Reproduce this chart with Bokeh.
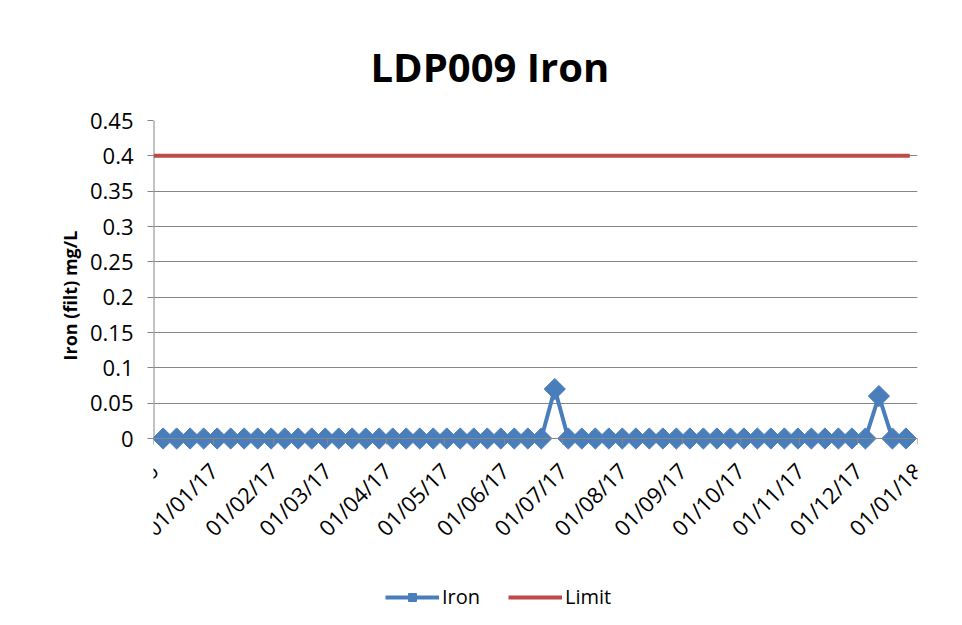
import datetime as dt
from math import pi

from bokeh.plotting import figure
from bokeh.models import (ColumnDataSource, FixedTicker, Legend, LegendItem,
                          Range1d, Title)
from bokeh.embed import file_html
from bokeh.resources import INLINE

# ---------------- data ----------------
iron_dates = [
    "2016-12-06", "2016-12-13", "2016-12-20", "2016-12-27",
    "2017-01-03", "2017-01-10", "2017-01-17", "2017-01-24", "2017-01-31",
    "2017-02-07", "2017-02-14", "2017-02-21", "2017-02-28",
    "2017-03-07", "2017-03-14", "2017-03-21", "2017-03-28",
    "2017-04-04", "2017-04-11", "2017-04-18", "2017-04-25",
    "2017-05-02", "2017-05-09", "2017-05-16", "2017-05-23", "2017-05-30",
    "2017-06-06", "2017-06-13", "2017-06-20", "2017-06-27",
    "2017-07-04", "2017-07-11", "2017-07-18", "2017-07-25",
    "2017-08-01", "2017-08-08", "2017-08-15", "2017-08-22", "2017-08-29",
    "2017-09-05", "2017-09-12", "2017-09-19", "2017-09-26",
    "2017-10-03", "2017-10-10", "2017-10-17", "2017-10-24", "2017-10-31",
    "2017-11-07", "2017-11-14", "2017-11-21", "2017-11-28",
    "2017-12-05", "2017-12-12", "2017-12-19", "2017-12-26",
]
iron_values = [
    0, 0, 0, 0,
    0, 0, 0, 0, 0,
    0, 0, 0, 0,
    0, 0, 0, 0,
    0, 0, 0, 0,
    0, 0, 0, 0, 0,
    0, 0, 0, 0.07,
    0, 0, 0, 0,
    0, 0, 0, 0, 0,
    0, 0, 0, 0,
    0, 0, 0, 0, 0,
    0, 0, 0, 0,
    0, 0.06, 0, 0,
]
limit_dates = ["2016-12-01", "2017-12-28"]
limit_values = [0.4, 0.4]

x_tick_dates = [
    "2016-12-01", "2017-01-01", "2017-02-01", "2017-03-01", "2017-04-01",
    "2017-05-01", "2017-06-01", "2017-07-01", "2017-08-01", "2017-09-01",
    "2017-10-01", "2017-11-01", "2017-12-01", "2018-01-01",
]
x_tick_labels = [
    "01/12/16", "01/01/17", "01/02/17", "01/03/17", "01/04/17",
    "01/05/17", "01/06/17", "01/07/17", "01/08/17", "01/09/17",
    "01/10/17", "01/11/17", "01/12/17", "01/01/18",
]
y_ticks = [0, 0.05, 0.1, 0.15, 0.2, 0.25, 0.3, 0.35, 0.4, 0.45]
y_tick_labels = ["0", "0.05", "0.1", "0.15", "0.2", "0.25", "0.3", "0.35", "0.4", "0.45"]

title_text = "LDP009 Iron"
y_label = "Iron (filt) mg/L"


def to_dt(s):
    return dt.datetime.strptime(s, "%Y-%m-%d")


def to_ms(s):
    return int((to_dt(s) - dt.datetime(1970, 1, 1)).total_seconds() * 1000)


FONT = "Open Sans"
BLUE = "#4a7ebb"
RED = "#be4b48"
GRID = "#868686"

# layout (pixels): plotting area 318 px tall for the value axis,
# with 182 px below it for the date labels and legend
DATA_PX = 318
BELOW_PX = 182
y_start = -(y_ticks[-1] - y_ticks[0]) * BELOW_PX / DATA_PX

iron_src = ColumnDataSource(dict(x=[to_dt(d) for d in iron_dates], y=iron_values))
limit_src = ColumnDataSource(dict(x=[to_dt(d) for d in limit_dates], y=limit_values))

x0 = to_dt(x_tick_dates[0])
x1 = to_dt(x_tick_dates[-1])

p = figure(
    frame_width=764, frame_height=DATA_PX + BELOW_PX,
    x_axis_type="datetime",
    x_range=Range1d(x0, x1),
    y_range=Range1d(y_start, y_ticks[-1]),
    output_backend="svg", toolbar_location=None,
    min_border_left=153, min_border_right=33,
    min_border_top=120, min_border_bottom=0,
)
p.outline_line_color = None
p.background_fill_color = "white"
p.border_fill_color = "white"

# title
p.title.text = title_text
p.title.text_font = FONT
p.title.text_font_size = "40px"
p.title.text_font_style = "bold"
p.title.text_color = "black"
p.title.align = "left"
p.title.offset = 217
p.title.standoff = 54

# grid
p.xgrid.visible = False
p.ygrid.grid_line_color = GRID
p.ygrid.grid_line_width = 1
p.ygrid.ticker = FixedTicker(ticks=y_ticks)

# x axis (sits at value 0)
xa = p.xaxis[0]
xa.fixed_location = y_ticks[0]
xa.ticker = FixedTicker(ticks=[to_ms(d) for d in x_tick_dates], minor_ticks=[])
xa.major_label_overrides = {to_ms(d): lab for d, lab in zip(x_tick_dates, x_tick_labels)}
xa.major_label_orientation = pi / 4
xa.major_label_text_font = FONT
xa.major_label_text_font_size = "22px"
xa.major_label_text_color = "black"
xa.axis_line_color = GRID
xa.major_tick_line_color = GRID
xa.major_tick_out = 6
xa.major_tick_in = 0
xa.minor_tick_line_color = None
xa.major_label_standoff = 22

# y axis
ya = p.yaxis[0]
ya.ticker = FixedTicker(ticks=y_ticks, minor_ticks=[])
ya.major_label_overrides = {t: lab for t, lab in zip(y_ticks, y_tick_labels)}
ya.major_label_text_font = FONT
ya.major_label_text_font_size = "22px"
ya.major_label_text_color = "black"
ya.axis_line_color = None
ya.major_tick_line_color = GRID
ya.major_tick_out = 6
ya.major_tick_in = 0
ya.minor_tick_line_color = None
ya.major_label_standoff = 14

# value-axis line, only over the value range
p.segment(x0=[x0], y0=[y_ticks[0]], x1=[x0], y1=[y_ticks[-1]],
          line_color=GRID, line_width=2)

# y axis title
ytitle = Title(text=y_label, align="left", offset=260,
               text_font=FONT, text_font_size="18px", text_font_style="bold",
               text_color="black")
p.add_layout(ytitle, "left")

# series
lim_r = p.line("x", "y", source=limit_src, line_color=RED, line_width=4)
iron_line = p.line("x", "y", source=iron_src, line_color=BLUE, line_width=4)
iron_pts = p.scatter("x", "y", source=iron_src, marker="square", angle=pi / 4,
                     size=15, fill_color=BLUE, line_color=BLUE)

legend = Legend(
    items=[LegendItem(label="Iron", renderers=[iron_line, iron_pts]),
           LegendItem(label="Limit", renderers=[lim_r])],
    orientation="horizontal", location=(232, 10),
    label_text_font=FONT, label_text_font_size="20px", label_text_color="black",
    glyph_width=54, glyph_height=20, label_standoff=3, spacing=28,
    border_line_color=None, background_fill_alpha=0, margin=0,
)
p.add_layout(legend)

open("out.html", "w").write(file_html(p, INLINE))
